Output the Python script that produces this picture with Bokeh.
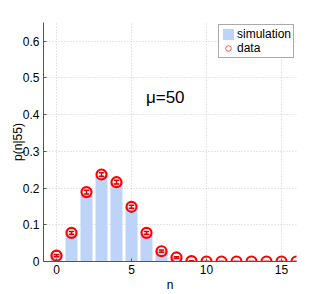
from bokeh.plotting import figure
from bokeh.models import Range1d, FixedTicker, Label, Legend, LegendItem
from bokeh.embed import file_html
from bokeh.resources import INLINE

n_sim = [0, 1, 2, 3, 4, 5, 6, 7, 8]
p_sim = [0.019, 0.073, 0.184, 0.233, 0.214, 0.147, 0.075, 0.029, 0.011]

n_data = [0, 1, 2, 3, 4, 5, 6, 7, 8, 9, 10, 11, 12, 13, 14, 15, 16]
p_data = [0.016, 0.078, 0.189, 0.237, 0.216, 0.149, 0.078, 0.028, 0.011,
          0.001, 0.0, 0.0, 0.0, 0.0, 0.0, 0.0, 0.0]
err_data = [0.003, 0.004, 0.005, 0.005, 0.005, 0.004, 0.004, 0.003, 0.002,
            0.001, 0.0, 0.0, 0.0, 0.0, 0.0, 0.0, 0.0]

y_ticks = [0, 0.1, 0.2, 0.3, 0.4, 0.5, 0.6]
x_ticks = [0, 5, 10, 15]

FONT = "Liberation Sans"

p = figure(width=319, height=294, output_backend="svg", toolbar_location=None,
           x_range=Range1d(-0.867, 16.0), y_range=Range1d(0, 0.651),
           min_border_left=43, min_border_top=22, min_border_right=23, min_border_bottom=33)
p.outline_line_color = None
p.background_fill_color = "white"

bars = p.vbar(x=n_sim, top=p_sim, width=0.8, bottom=0, fill_color="#bdd3f8", line_color=None)

lo = [v - e for v, e in zip(p_data, err_data)]
hi = [v + e for v, e in zip(p_data, err_data)]
p.segment(x0=n_data, y0=lo, x1=n_data, y1=hi, line_color="#e00000", line_width=1.5)
cl = [x - 0.18 for x in n_data]
cr = [x + 0.18 for x in n_data]
p.segment(x0=cl, y0=lo, x1=cr, y1=lo, line_color="#e00000", line_width=1.5)
p.segment(x0=cl, y0=hi, x1=cr, y1=hi, line_color="#e00000", line_width=1.5)
p.scatter(x=n_data, y=p_data, marker="circle", size=10, fill_color=None,
          line_color="#ff0000", line_width=2.2)
leg_pts = p.scatter(x=[-10], y=[-10], marker="circle", size=11, fill_color=None,
                    line_color="#ff5050", line_width=1)

for ax in (p.xaxis[0], p.yaxis[0]):
    ax.axis_line_color = "#555555"
    ax.major_tick_line_color = "#555555"
    ax.major_tick_in = 3
    ax.major_tick_out = 0
    ax.minor_tick_line_color = None
    ax.major_label_text_font = FONT
    ax.major_label_text_font_size = "12px"
    ax.major_label_text_color = "black"
    ax.axis_label_text_font = FONT
    ax.axis_label_text_font_size = "12px"
    ax.axis_label_text_font_style = "normal"
    ax.axis_label_text_color = "black"
    ax.major_label_standoff = 4

p.xaxis.ticker = FixedTicker(ticks=x_ticks)
p.yaxis.ticker = FixedTicker(ticks=y_ticks)
p.yaxis.major_label_overrides = {0: "0"}
p.yaxis.axis_label = "p(n|55)"
p.yaxis.axis_label_standoff = -5
p.xaxis.axis_label = "n"
p.xaxis.major_label_standoff = 3
p.xaxis.axis_label_standoff = 1

p.xgrid.ticker = FixedTicker(ticks=x_ticks)
p.ygrid.ticker = FixedTicker(ticks=y_ticks)
for g in (p.xgrid[0], p.ygrid[0]):
    g.grid_line_color = "#cccccc"
    g.grid_line_dash = "1 2"
    g.grid_line_width = 1

p.add_layout(Label(x=7.25, y=0.447, text="μ=50", text_font=FONT, text_font_size="17px",
                   text_align="center", text_baseline="middle", text_color="black"))

legend = Legend(items=[LegendItem(label="simulation", renderers=[bars]),
                       LegendItem(label="data", renderers=[leg_pts])],
                location="top_right")
legend.label_text_font = FONT
legend.label_text_font_size = "12px"
legend.label_text_color = "black"
legend.border_line_color = "#555555"
legend.margin = 2
legend.padding = 2
legend.spacing = 0
legend.label_standoff = 2
legend.glyph_width = 14
legend.glyph_height = 14
legend.label_height = 14
p.add_layout(legend)

open("out.html", "w").write(file_html(p, INLINE))
